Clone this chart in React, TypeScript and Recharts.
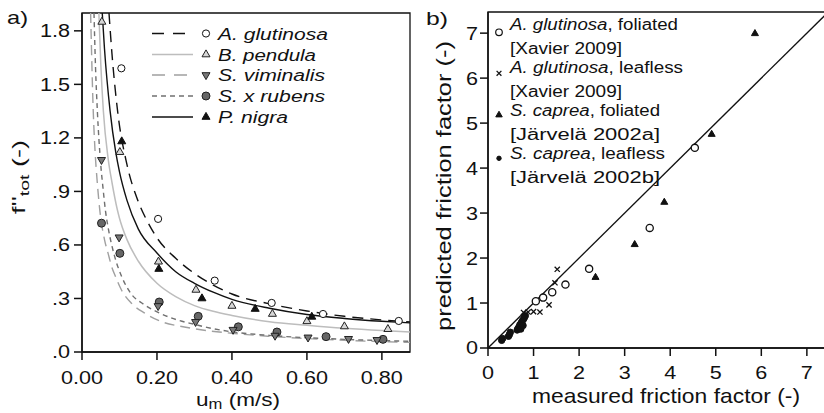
import React from 'react';
import { ComposedChart, Line, Scatter, XAxis, YAxis, ReferenceArea, ReferenceLine } from 'recharts';

// ---------- Panel a data ----------
const uTicks = [0, 0.2, 0.4, 0.6, 0.8];
const uTickLabels = ['0.00', '0.20', '0.40', '0.60', '0.80'];
const fTicks = [0, 0.3, 0.6, 0.9, 1.2, 1.5, 1.8];
const fTickLabels = ['.0', '.3', '.6', '.9', '1.2', '1.5', '1.8'];

const aglutPts = [
  { u: 0.105, f: 1.59 }, { u: 0.203, f: 0.746 }, { u: 0.354, f: 0.40 },
  { u: 0.506, f: 0.275 }, { u: 0.643, f: 0.213 }, { u: 0.845, f: 0.174 },
];
const bpendPts = [
  { u: 0.053, f: 1.85 }, { u: 0.101, f: 1.12 }, { u: 0.204, f: 0.506 }, { u: 0.304, f: 0.348 },
  { u: 0.40, f: 0.258 }, { u: 0.508, f: 0.213 }, { u: 0.60, f: 0.172 },
  { u: 0.70, f: 0.143 }, { u: 0.816, f: 0.128 },
];
const svimPts = [
  { u: 0.052, f: 1.077 }, { u: 0.099, f: 0.643 }, { u: 0.203, f: 0.258 },
  { u: 0.303, f: 0.169 }, { u: 0.403, f: 0.125 }, { u: 0.515, f: 0.092 },
  { u: 0.603, f: 0.082 }, { u: 0.711, f: 0.074 }, { u: 0.787, f: 0.068 },
];
const sxrubPts = [
  { u: 0.052, f: 0.722 }, { u: 0.101, f: 0.553 }, { u: 0.206, f: 0.28 },
  { u: 0.31, f: 0.20 }, { u: 0.417, f: 0.141 }, { u: 0.52, f: 0.112 },
  { u: 0.651, f: 0.086 }, { u: 0.803, f: 0.071 },
];
const pnigPts = [
  { u: 0.106, f: 1.18 }, { u: 0.205, f: 0.465 }, { u: 0.32, f: 0.30 },
  { u: 0.462, f: 0.241 }, { u: 0.613, f: 0.197 },
];

const aglutCurve = [
  { u: 0.072, f: 1.9 }, { u: 0.08, f: 1.67 }, { u: 0.095, f: 1.35 }, { u: 0.12, f: 1.05 },
  { u: 0.147, f: 0.86 }, { u: 0.17, f: 0.75 }, { u: 0.2, f: 0.64 }, { u: 0.25, f: 0.525 },
  { u: 0.3, f: 0.44 }, { u: 0.35, f: 0.375 }, { u: 0.4, f: 0.325 }, { u: 0.5, f: 0.27 },
  { u: 0.6, f: 0.23 }, { u: 0.7, f: 0.2 }, { u: 0.8, f: 0.18 }, { u: 0.875, f: 0.169 },
];
const bpendCurve = [
  { u: 0.045, f: 1.9 }, { u: 0.05, f: 1.62 }, { u: 0.057, f: 1.35 }, { u: 0.07, f: 1.08 },
  { u: 0.08, f: 0.95 }, { u: 0.094, f: 0.8 }, { u: 0.1, f: 0.75 }, { u: 0.12, f: 0.63 },
  { u: 0.15, f: 0.51 }, { u: 0.2, f: 0.385 }, { u: 0.25, f: 0.31 }, { u: 0.3, f: 0.26 },
  { u: 0.35, f: 0.228 }, { u: 0.4, f: 0.205 }, { u: 0.5, f: 0.17 }, { u: 0.6, f: 0.15 },
  { u: 0.7, f: 0.133 }, { u: 0.8, f: 0.12 }, { u: 0.875, f: 0.112 },
];
const svimCurve = [
  { u: 0.023, f: 1.9 }, { u: 0.03, f: 1.35 }, { u: 0.035, f: 1.12 }, { u: 0.04, f: 0.97 },
  { u: 0.048, f: 0.785 }, { u: 0.06, f: 0.63 }, { u: 0.07, f: 0.55 }, { u: 0.079, f: 0.479 },
  { u: 0.09, f: 0.42 }, { u: 0.104, f: 0.353 }, { u: 0.132, f: 0.273 }, { u: 0.168, f: 0.217 },
  { u: 0.212, f: 0.17 }, { u: 0.266, f: 0.143 }, { u: 0.3, f: 0.13 }, { u: 0.4, f: 0.105 },
  { u: 0.5, f: 0.088 }, { u: 0.6, f: 0.075 }, { u: 0.7, f: 0.066 }, { u: 0.8, f: 0.058 },
  { u: 0.875, f: 0.054 },
];
const sxrubCurve = [
  { u: 0.032, f: 1.9 }, { u: 0.036, f: 1.6 }, { u: 0.041, f: 1.35 }, { u: 0.05, f: 1.05 },
  { u: 0.056, f: 0.92 }, { u: 0.063, f: 0.785 }, { u: 0.07, f: 0.694 }, { u: 0.086, f: 0.544 },
  { u: 0.106, f: 0.422 }, { u: 0.13, f: 0.329 }, { u: 0.164, f: 0.268 }, { u: 0.208, f: 0.217 },
  { u: 0.252, f: 0.181 }, { u: 0.3, f: 0.155 }, { u: 0.333, f: 0.138 }, { u: 0.4, f: 0.113 },
  { u: 0.5, f: 0.093 }, { u: 0.6, f: 0.08 }, { u: 0.7, f: 0.071 }, { u: 0.8, f: 0.064 },
  { u: 0.875, f: 0.06 },
];
const pnigCurve = [
  { u: 0.054, f: 1.9 }, { u: 0.06, f: 1.7 }, { u: 0.075, f: 1.35 }, { u: 0.09, f: 1.12 },
  { u: 0.1, f: 1.01 }, { u: 0.12, f: 0.85 }, { u: 0.15, f: 0.69 }, { u: 0.2, f: 0.555 },
  { u: 0.25, f: 0.45 }, { u: 0.3, f: 0.385 }, { u: 0.35, f: 0.335 }, { u: 0.4, f: 0.295 },
  { u: 0.5, f: 0.245 }, { u: 0.6, f: 0.21 }, { u: 0.7, f: 0.188 }, { u: 0.8, f: 0.172 },
  { u: 0.875, f: 0.163 },
];

// ---------- Panel b data ----------
const bTicks = [0, 1, 2, 3, 4, 5, 6, 7];
const bTickLabels = ['0', '1', '2', '3', '4', '5', '6', '7'];
const aglutFol = [
  { x: 1.05, y: 1.04 }, { x: 1.21, y: 1.12 }, { x: 1.41, y: 1.24 }, { x: 1.70, y: 1.41 },
  { x: 2.22, y: 1.76 }, { x: 3.55, y: 2.67 }, { x: 4.54, y: 4.45 },
];
const aglutLeaf = [
  { x: 0.78, y: 0.79 }, { x: 0.88, y: 0.80 }, { x: 1.0, y: 0.81 }, { x: 1.14, y: 0.80 },
  { x: 1.34, y: 0.96 }, { x: 1.47, y: 1.45 }, { x: 1.52, y: 1.75 },
];
const scapFol = [
  { x: 2.36, y: 1.57 }, { x: 3.22, y: 2.30 }, { x: 3.87, y: 3.24 }, { x: 4.91, y: 4.75 }, { x: 5.86, y: 6.99 },
];
const scapLeaf = [
  { x: 0.30, y: 0.17 }, { x: 0.32, y: 0.21 }, { x: 0.45, y: 0.26 }, { x: 0.47, y: 0.30 },
  { x: 0.49, y: 0.35 }, { x: 0.64, y: 0.40 }, { x: 0.66, y: 0.44 }, { x: 0.69, y: 0.48 },
  { x: 0.70, y: 0.52 }, { x: 0.72, y: 0.42 }, { x: 0.73, y: 0.56 }, { x: 0.75, y: 0.60 },
  { x: 0.77, y: 0.50 }, { x: 0.78, y: 0.64 }, { x: 0.80, y: 0.68 }, { x: 0.82, y: 0.72 },
];

// ---------- styling helpers ----------
const FONT = '"Liberation Sans", Arial, Helvetica, sans-serif';
const INK = '#111';
const emW = (s: string) => s.split('').reduce((a, c) => a + (c === '.' ? 0.278 : c === '-' ? 0.333 : 0.556), 0);

const makeTick = (labels: string[], values: number[], side: 'bottom' | 'left', fs: number, stretch: number) =>
  (props: any) => {
    const { x, y, payload } = props;
    const i = values.findIndex(v => Math.abs(v - payload.value) < 1e-9);
    const label = i >= 0 ? labels[i] : String(payload.value);
    return (
      <text
        x={x}
        y={y}
        dy={side === 'bottom' ? fs * 0.72 : fs * 0.36}
        textAnchor={side === 'bottom' ? 'middle' : 'end'}
        fontFamily={FONT}
        fontSize={fs}
        fill={INK}
        textLength={emW(label) * fs * stretch}
        lengthAdjust="spacingAndGlyphs"
      >
        {label}
      </text>
    );
  };

const circ = (fill: string, stroke: string, r: number, sw = 1) => (p: any) =>
  <circle cx={p.cx} cy={p.cy} r={r} fill={fill} stroke={stroke} strokeWidth={sw} />;
const triUp = (fill: string, stroke: string, s: number) => (p: any) => {
  const h = s * 0.866;
  return <path d={`M${p.cx},${p.cy - (h * 2) / 3}L${p.cx + s / 2},${p.cy + h / 3}L${p.cx - s / 2},${p.cy + h / 3}Z`} fill={fill} stroke={stroke} strokeWidth={1} />;
};
const triDown = (fill: string, stroke: string, s: number) => (p: any) => {
  const h = s * 0.866;
  return <path d={`M${p.cx},${p.cy + (h * 2) / 3}L${p.cx + s / 2},${p.cy - h / 3}L${p.cx - s / 2},${p.cy - h / 3}Z`} fill={fill} stroke={stroke} strokeWidth={1} />;
};
const cross = (s: number) => (p: any) =>
  <path d={`M${p.cx - s},${p.cy - s}L${p.cx + s},${p.cy + s}M${p.cx + s},${p.cy - s}L${p.cx - s},${p.cy + s}`} stroke={INK} strokeWidth={1.3} fill="none" />;

const C_BPEND = '#bdbdbd';
const C_SVIM = '#a0a0a0';
const C_SXRUB = '#707070';

const shapes = {
  aglut: circ('#fff', INK, 3.6),
  bpend: triUp('#d6d6d6', '#222', 8),
  svim: triDown('#777', '#222', 8),
  sxrub: circ('#666', '#222', 4),
  pnig: triUp(INK, INK, 8),
};

const axisStyle = { stroke: INK, strokeWidth: 1.5 };

function PanelA() {
  return (
    <ComposedChart width={420} height={413} margin={{ top: 13, right: 10, bottom: 0, left: 0 }}>
      <XAxis type="number" dataKey="u" domain={[0, 0.875]} ticks={uTicks} allowDataOverflow height={61}
        tickSize={8} tickMargin={11} axisLine={axisStyle} tickLine={axisStyle}
        tick={makeTick(uTickLabels, uTicks, 'bottom', 18, 1.2)} interval={0} />
      <YAxis type="number" dataKey="f" domain={[0, 1.9]} ticks={fTicks} allowDataOverflow width={82}
        tickSize={8} tickMargin={4} axisLine={axisStyle} tickLine={axisStyle}
        tick={makeTick(fTickLabels, fTicks, 'left', 18, 1.2)} interval={0} />
      <ReferenceArea x1={0} x2={0.875} y1={0} y2={1.9} fill="none" stroke={INK} strokeWidth={1.3} ifOverflow="visible" />
      <Line data={svimCurve} dataKey="f" type="monotone" stroke={C_SVIM} strokeWidth={1.4} strokeDasharray="10 6" dot={false} activeDot={false} isAnimationActive={false} />
      <Line data={sxrubCurve} dataKey="f" type="monotone" stroke={C_SXRUB} strokeWidth={1.4} strokeDasharray="5 4" dot={false} activeDot={false} isAnimationActive={false} />
      <Line data={bpendCurve} dataKey="f" type="monotone" stroke={C_BPEND} strokeWidth={1.5} dot={false} activeDot={false} isAnimationActive={false} />
      <Line data={pnigCurve} dataKey="f" type="monotone" stroke={INK} strokeWidth={1.4} dot={false} activeDot={false} isAnimationActive={false} />
      <Line data={aglutCurve} dataKey="f" type="monotone" stroke={INK} strokeWidth={1.4} strokeDasharray="11 7" dot={false} activeDot={false} isAnimationActive={false} />
      <Scatter data={sxrubPts} dataKey="f" shape={shapes.sxrub} isAnimationActive={false} />
      <Scatter data={svimPts} dataKey="f" shape={shapes.svim} isAnimationActive={false} />
      <Scatter data={bpendPts} dataKey="f" shape={shapes.bpend} isAnimationActive={false} />
      <Scatter data={pnigPts} dataKey="f" shape={shapes.pnig} isAnimationActive={false} />
      <Scatter data={aglutPts} dataKey="f" shape={shapes.aglut} isAnimationActive={false} />
    </ComposedChart>
  );
}

function PanelB() {
  return (
    <ComposedChart width={406} height={413} margin={{ top: 12, right: 0, bottom: 0, left: 0 }}>
      <XAxis type="number" dataKey="x" domain={[0, 7.42]} ticks={bTicks} allowDataOverflow height={65}
        tickSize={8} tickMargin={10} axisLine={axisStyle} tickLine={axisStyle}
        tick={makeTick(bTickLabels, bTicks, 'bottom', 18, 1.2)} interval={0} />
      <YAxis type="number" dataKey="y" domain={[0, 7.47]} ticks={bTicks} allowDataOverflow width={68}
        tickSize={8} tickMargin={2} axisLine={axisStyle} tickLine={axisStyle}
        tick={makeTick(bTickLabels, bTicks, 'left', 18, 1.2)} interval={0} />
      <ReferenceArea x1={0} x2={7.42} y1={0} y2={7.47} fill="none" stroke={INK} strokeWidth={1.3} ifOverflow="visible" />
      <ReferenceLine segment={[{ x: 0, y: 0 }, { x: 7.42, y: 7.42 }]} stroke={INK} strokeWidth={1.3} ifOverflow="hidden" />
      <Scatter data={scapLeaf} dataKey="y" shape={circ(INK, INK, 3.2)} isAnimationActive={false} />
      <Scatter data={aglutLeaf} dataKey="y" shape={cross(2.6)} isAnimationActive={false} />
      <Scatter data={aglutFol} dataKey="y" shape={circ('#fff', INK, 3.6, 1.3)} isAnimationActive={false} />
      <Scatter data={scapFol} dataKey="y" shape={triUp(INK, INK, 7)} isAnimationActive={false} />
    </ComposedChart>
  );
}

const legendA = [
  { name: 'A. glutinosa', color: INK, dash: '12 9', sw: 1.4, shape: shapes.aglut, w: 110 },
  { name: 'B. pendula', color: C_BPEND, dash: undefined, sw: 1.5, shape: shapes.bpend, w: 98 },
  { name: 'S. viminalis', color: C_SVIM, dash: '13 9', sw: 1.4, shape: shapes.svim, w: 107 },
  { name: 'S. x rubens', color: C_SXRUB, dash: '5 4', sw: 1.4, shape: shapes.sxrub, w: 107 },
  { name: 'P. nigra', color: INK, dash: undefined, sw: 1.4, shape: shapes.pnig, w: 70 },
];
const legendARows = [33.5, 54.5, 75, 96, 117];

const legendB = [
  { sp: 'A. glutinosa', rest: ', foliated', ref: '[Xavier 2009]', shape: circ('#fff', INK, 3.3, 1.2), w1: 168, w2: 112 },
  { sp: 'A. glutinosa', rest: ', leafless', ref: '[Xavier 2009]', shape: cross(2.4), w1: 173, w2: 112 },
  { sp: 'S. caprea', rest: ', foliated', ref: '[Järvelä 2002a]', shape: triUp(INK, INK, 6.5), w1: 150, w2: 150 },
  { sp: 'S. caprea', rest: ', leafless', ref: '[Järvelä 2002b]', shape: circ(INK, INK, 2.2), w1: 155, w2: 150 },
];
const legendBBase = [29.5, 72.5, 115.5, 158.5];
const legendBMark = [32.3, 73.3, 115, 158.3];

function Overlay() {
  return (
    <svg width={824} height={413} style={{ position: 'absolute', left: 0, top: 0, pointerEvents: 'none' }}>
      <g fontFamily={FONT} fill={INK}>
        <text x={7} y={24} fontSize={19} textLength={21} lengthAdjust="spacingAndGlyphs">a)</text>
        <text x={426} y={25} fontSize={19} textLength={22} lengthAdjust="spacingAndGlyphs">b)</text>

        {legendA.map((e, i) => (
          <g key={e.name}>
            <line x1={152} x2={193} y1={legendARows[i]} y2={legendARows[i]} stroke={e.color} strokeWidth={e.sw} strokeDasharray={e.dash} />
            {e.shape({ cx: 206, cy: legendARows[i] })}
            <text x={218} y={legendARows[i] + 6} fontSize={16} fontStyle="italic" textLength={e.w} lengthAdjust="spacingAndGlyphs">{e.name}</text>
          </g>
        ))}

        {legendB.map((e, i) => (
          <g key={i}>
            {e.shape({ cx: 499, cy: legendBMark[i] })}
            <text x={510} y={legendBBase[i]} fontSize={16} textLength={e.w1} lengthAdjust="spacingAndGlyphs">
              <tspan fontStyle="italic">{e.sp}</tspan>
              <tspan>{e.rest}</tspan>
            </text>
            <text x={510} y={legendBBase[i] + 24} fontSize={16} textLength={e.w2} lengthAdjust="spacingAndGlyphs">{e.ref}</text>
          </g>
        ))}

        <text x={196} y={406} fontSize={19} textLength={84} lengthAdjust="spacingAndGlyphs">
          u<tspan fontSize={14} dy={3}>m</tspan><tspan dy={-3}> (m/s)</tspan>
        </text>
        <g transform="translate(25,177) rotate(-90)">
          <text x={0} y={0} fontSize={18} textAnchor="middle" textLength={74} lengthAdjust="spacingAndGlyphs">
            f''<tspan fontSize={13} dy={4}>tot</tspan><tspan dy={-4}> (-)</tspan>
          </text>
        </g>

        <text x={666} y={403} fontSize={21} textAnchor="middle" textLength={268} lengthAdjust="spacingAndGlyphs">measured friction factor (-)</text>
        <g transform="translate(451,186) rotate(-90)">
          <text x={0} y={0} fontSize={21} textAnchor="middle" textLength={290} lengthAdjust="spacingAndGlyphs">predicted friction factor (-)</text>
        </g>
      </g>
    </svg>
  );
}

export default function App() {
  return (
    <div style={{ position: 'absolute', left: 0, top: 0, width: 824, height: 413, overflow: 'hidden', background: '#fff' }}>
      <div style={{ position: 'absolute', left: 0, top: 0 }}>
        <PanelA />
      </div>
      <div style={{ position: 'absolute', left: 420, top: 0 }}>
        <PanelB />
      </div>
      <Overlay />
    </div>
  );
}
